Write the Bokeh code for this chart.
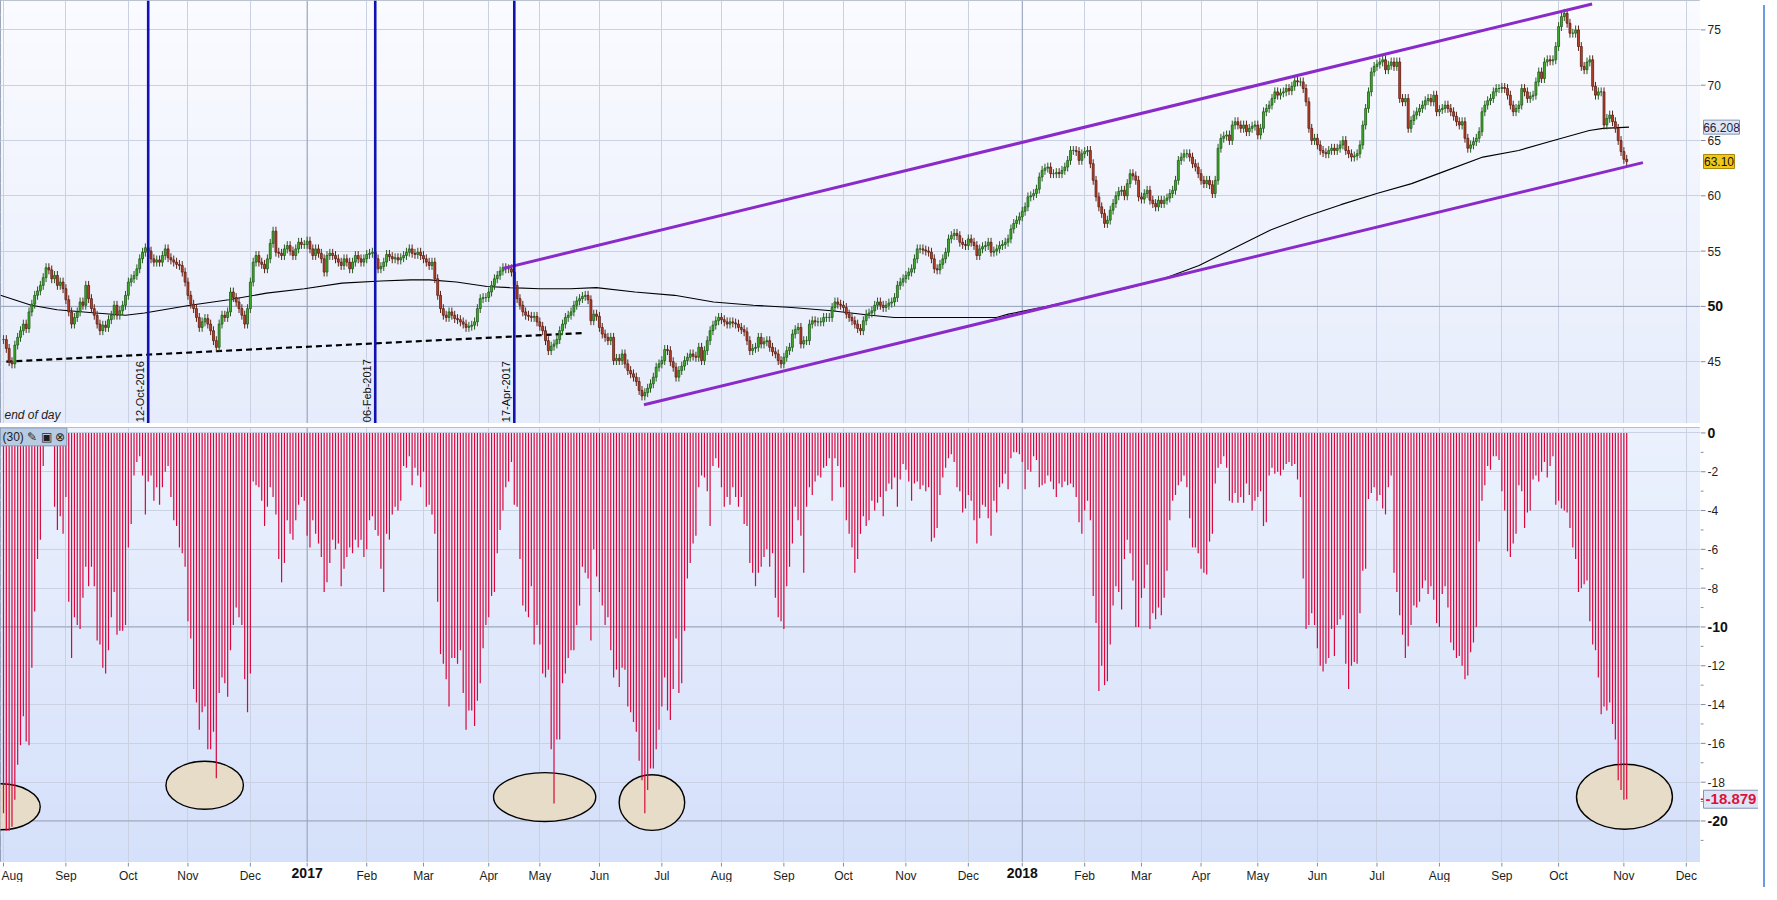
import numpy as np
import pandas as pd
from bokeh.plotting import figure
from bokeh.models import (Range1d, FixedTicker, Span, Label, BoxAnnotation, Grid,
                          ColumnDataSource, Div, Spacer)
from bokeh.layouts import column, row
from bokeh.embed import file_html
from bokeh.resources import INLINE
from bokeh.core.properties import value

FONT = "Liberation Sans"
NARROW = "Liberation Sans Narrow, Liberation Sans"

# ---------------- calendar (UK trading days) ----------------
uk_holidays = ["2016-08-29", "2016-12-26", "2016-12-27", "2017-01-02", "2017-04-14",
               "2017-04-17", "2017-05-01", "2017-05-29", "2017-08-28", "2017-12-25",
               "2017-12-26", "2018-01-01", "2018-03-30", "2018-04-02", "2018-05-07",
               "2018-05-28", "2018-08-27"]

# ---------------- daily closes, 1 Aug 2016 .. 2 Nov 2018 ----------------
close = [
    47.0, 46.2, 45.0, 44.8, 46.5, 47.2, 47.8, 48.4, 48.0, 49.5,
    50.2, 51.0, 51.4, 51.9, 52.6, 53.5, 53.3, 52.5, 52.8, 51.9,
    52.2, 51.6, 50.6, 49.5, 48.4, 49.0, 49.5, 50.4, 50.1, 51.9,
    50.7, 49.8, 49.2, 48.4, 47.8, 48.3, 48.1, 48.8, 49.2, 50.1,
    49.2, 49.6, 50.1, 51.0, 52.2, 52.5, 52.8, 53.4, 54.3, 54.9,
    55.3, 55.0, 54.3, 54.0, 54.2, 54.0, 54.6, 55.2, 54.4, 54.2,
    54.0, 53.8, 53.7, 53.1, 52.2, 51.0, 50.2, 49.8, 49.0, 48.1,
    48.6, 48.9, 48.4, 47.8, 46.9, 46.3, 48.4, 49.2, 49.0, 49.5,
    51.3, 50.8, 50.4, 49.8, 49.2, 48.4, 49.8, 52.2, 54.0, 54.6,
    54.0, 53.8, 53.4, 54.3, 55.7, 56.8, 54.9, 54.8, 54.6, 55.2,
    55.5, 55.0, 54.6, 55.2, 55.8, 55.6, 55.6, 55.9, 55.2, 54.6,
    55.2, 54.8, 54.3, 53.1, 54.6, 54.8, 54.6, 54.3, 54.0, 53.7,
    54.3, 54.0, 53.4, 54.0, 54.6, 54.3, 54.0, 54.3, 54.7, 54.8,
    54.9, 54.3, 53.4, 53.6, 54.0, 54.7, 54.5, 54.3, 54.4, 54.2,
    54.4, 54.6, 54.9, 55.2, 54.8, 54.7, 54.9, 54.6, 54.3, 54.0,
    53.7, 54.0, 52.5, 51.0, 49.8, 49.2, 49.0, 49.5, 49.2, 48.9,
    48.8, 48.6, 48.4, 48.1, 48.2, 48.3, 48.6, 49.8, 50.7, 50.8,
    50.8, 51.3, 51.9, 52.5, 52.8, 53.2, 53.5, 53.4, 53.4, 53.1,
    51.9, 50.7, 50.1, 49.5, 49.2, 49.1, 49.0, 49.1, 48.6, 48.2,
    47.8, 46.9, 46.0, 46.4, 46.6, 47.0, 47.8, 48.4, 49.0, 49.2,
    49.5, 50.1, 50.5, 50.7, 50.9, 51.0, 50.6, 48.7, 49.3, 49.1,
    48.1, 47.5, 47.2, 46.9, 47.2, 45.1, 45.3, 45.1, 45.7, 44.8,
    44.2, 43.9, 43.6, 43.2, 42.4, 41.9, 42.2, 42.6, 43.0, 43.6,
    44.5, 44.8, 45.1, 46.1, 46.0, 45.0, 44.5, 43.6, 44.2, 44.6,
    45.1, 45.4, 45.7, 45.5, 45.4, 46.3, 45.1, 46.0, 46.9, 47.8,
    48.3, 48.7, 49.0, 48.8, 48.6, 48.4, 48.6, 48.5, 48.4, 48.1,
    47.9, 47.7, 46.9, 46.0, 46.2, 46.3, 47.2, 46.6, 46.8, 46.9,
    46.3, 45.9, 45.7, 45.1, 44.8, 45.4, 46.0, 46.3, 47.5, 47.9,
    48.1, 46.6, 46.9, 46.9, 48.4, 48.7, 48.6, 48.6, 48.6, 49.0, 49.0,
    49.0, 49.9, 50.4, 50.2, 50.1, 49.9, 49.3, 49.0, 48.7, 48.4,
    48.0, 47.8, 48.7, 49.3, 49.4, 49.6, 50.1, 50.4, 50.1, 49.9,
    50.1, 50.3, 50.4, 50.8, 51.9, 52.2, 52.5, 52.8, 53.1, 53.4,
    54.3, 55.2, 55.2, 55.1, 55.0, 54.9, 54.3, 53.4, 53.3, 53.8,
    54.3, 54.9, 56.1, 56.4, 56.6, 56.4, 55.8, 55.6, 55.5, 56.1,
    55.8, 55.5, 54.6, 55.2, 55.4, 55.5, 55.8, 54.9, 55.0, 55.2,
    55.5, 55.6, 55.8, 56.1, 57.0, 57.5, 57.8, 58.1, 58.6, 59.0,
    59.9, 60.0, 60.2, 60.6, 61.7, 62.3, 62.5, 62.6, 62.0, 62.0,
    62.1, 62.0, 62.3, 62.6, 63.2, 64.1, 64.1, 64.0, 63.2, 63.8,
    64.0, 64.1, 62.9, 61.4, 59.9, 59.0, 58.4, 57.5, 57.8, 58.7,
    59.3, 60.0, 60.4, 60.5, 60.0, 61.1, 62.0, 61.8, 61.4, 59.9,
    59.7, 60.2, 60.5, 59.6, 59.3, 59.0, 59.6, 59.3, 59.6, 59.8,
    60.2, 60.5, 61.4, 63.2, 63.5, 63.8, 63.8, 63.5, 62.9, 62.6,
    62.0, 61.4, 61.1, 61.4, 61.0, 60.2, 61.4, 64.3, 65.2, 65.4,
    65.5, 65.0, 66.4, 66.7, 66.4, 66.1, 66.4, 65.8, 66.1, 66.3,
    66.4, 65.5, 66.1, 67.6, 67.9, 68.2, 68.8, 69.4, 69.1, 69.3,
    69.4, 69.7, 69.5, 69.9, 70.4, 70.3, 70.3, 69.7, 68.5, 66.1,
    65.0, 65.2, 64.6, 64.1, 63.9, 63.8, 64.1, 64.3, 64.1, 64.3,
    64.6, 65.0, 64.1, 63.8, 63.5, 63.6, 63.8, 64.6, 66.4, 67.9,
    69.4, 71.2, 71.7, 71.9, 72.1, 72.3, 71.4, 71.8, 72.1, 71.7,
    72.1, 68.8, 68.5, 68.8, 66.1, 66.8, 67.3, 67.6, 67.9, 68.2,
    68.6, 68.8, 68.5, 69.1, 67.6, 67.8, 67.9, 68.2, 67.9, 67.6,
    67.2, 66.7, 66.4, 66.7, 65.2, 64.3, 64.6, 64.9, 65.2, 65.8,
    67.6, 68.2, 68.6, 68.8, 69.4, 69.7, 69.7, 69.8, 69.7, 69.1,
    68.2, 67.6, 67.9, 68.2, 69.7, 69.4, 68.8, 69.0, 69.1, 70.3,
    71.2, 70.6, 72.1, 72.3, 72.2, 72.3, 73.5, 75.3, 76.2, 76.5,
    75.6, 74.7, 74.7, 75.0, 73.5, 71.7, 71.4, 72.1, 72.3, 69.9,
    69.1, 69.4, 69.4, 66.4, 67.0, 67.3, 66.7, 66.1, 65.0, 64.0,
    63.3, 63.1,
]

# ---------------- 30-day drawdown indicator (%), same days ----------------
drawdown = [
    -19.6, -20.5, -20.5, -20.3, -18.9, -17.1, -16.1, -14.6, -15.9, -16.1,
    -12.1, -9.2, -6.5, -5.5, -1.7, -0.5, -0.3, -0.1, -3.8, -5.0,
    -4.3, -5.2, -3.3, -8.7, -11.6, -9.5, -9.9, -10.1, -8.5, -6.9,
    -7.9, -6.9, -7.9, -10.7, -10.9, -12.1, -12.4, -11.2, -9.5, -8.2,
    -10.4, -10.2, -10.2, -9.9, -5.9, -4.7, -2.2, -1.5, -1.2, -2.2,
    -4.2, -2.5, -2.2, -3.5, -2.8, -3.7, -2.8, -2.0, -1.7,
    -3.3, -4.5, -4.8, -5.9, -6.2, -6.9, -9.7, -10.6, -13.2, -13.9,
    -15.3, -14.4, -14.1, -16.3, -16.3, -15.4, -17.8, -13.4, -12.6, -12.9,
    -13.6, -11.2, -9.9, -9.0, -9.5, -9.9, -12.7, -14.4, -12.4, -2.5,
    -2.7, -2.8, -3.5, -4.8, -3.8, -2.8, -3.3, -4.2, -6.5, -7.7,
    -6.7, -4.5, -5.2, -5.5, -4.5, -3.7, -3.3, -3.5, -5.3,
    -5.9, -4.5, -5.2, -5.7, -6.4, -8.2, -7.7, -6.7, -5.5, -6.0,
    -5.7, -7.9, -7.0, -6.4, -5.9, -6.2, -5.5, -5.9, -5.5, -6.4,
    -6.0, -4.5, -4.3, -5.0, -5.3, -7.0, -8.2, -5.2, -5.5, -4.2,
    -3.8, -4.0, -3.5, -1.7, -1.8, -1.2, -2.7, -1.8, -2.2, -2.8,
    -2.0, -3.8, -3.7, -4.2, -5.2, -8.7, -11.4, -11.9, -12.7,
    -14.1, -11.6, -11.6, -11.9, -11.2, -13.4, -15.3, -14.3, -14.3, -15.1,
    -13.8, -12.9, -11.1, -9.9, -9.5, -8.4, -8.2, -6.2, -5.0, -4.0,
    -2.8, -2.5, -1.5, -3.7, -3.8, -6.5, -8.9, -9.2, -9.5, -7.9,
    -10.9, -9.9, -10.9, -12.4, -12.6, -12.2, -16.3, -19.1, -15.8, -15.8,
    -12.9, -12.4, -11.6, -11.2, -11.2, -9.9, -8.9, -6.9, -7.2,
    -7.5, -10.7, -6.0, -7.4, -8.2, -8.9, -9.9, -9.5, -11.2, -12.6,
    -12.2, -13.1, -12.1, -12.2, -14.1, -14.4, -14.9, -15.4, -16.9, -17.9,
    -19.6, -18.4, -17.3, -17.3, -16.3, -15.3, -14.1, -12.6, -14.3, -14.8,
    -13.2, -10.6, -13.4, -12.9, -10.2, -7.5, -6.7, -5.7, -5.3, -2.8,
    -2.2, -2.3, -3.0, -4.8, -1.7, -1.3, -1.8, -2.8, -3.8,
    -3.3, -3.7, -2.8, -3.3, -3.8, -3.3, -4.7, -4.8, -6.7, -7.2,
    -7.9, -7.2, -6.9, -6.4, -6.0, -6.9, -6.2, -8.5, -9.5, -9.7,
    -10.1, -7.9, -6.9, -5.7, -3.8, -4.5, -5.3, -7.2, -3.8, -2.8,
    -3.2, -2.5, -2.2, -2.3, -1.8, -1.7, -1.3, -3.5, -1.3, -1.7,
    -2.8, -2.8, -4.5, -5.2, -5.9, -7.2, -6.5, -5.2, -4.3, -4.8, -4.5,
    -3.5, -4.0, -3.6, -3.3, -4.3, -3.0, -2.6, -2.9, -2.3, -3.8,
    -2.4, -1.6, -1.9, -2.5, -3.5, -2.6, -2.5, -2.9, -2.7, -3.0,
    -2.8, -5.6, -5.4, -4.9, -3.2, -2.3, -1.8, -1.3, -1.1, -1.5,
    -2.8, -3.0, -4.1, -3.9, -3.2, -3.5, -4.5, -5.7, -4.4, -3.7,
    -3.8, -4.4, -5.3, -3.5, -4.1, -2.8, -2.6, -2.1, -2.9,
    -1.3, -1.0, -1.0, -1.1, -1.5, -2.9, -1.9, -2.0, -1.2, -1.4,
    -2.8, -2.7, -2.6, -2.2, -2.5, -2.9, -3.3, -2.6, -2.8, -2.5,
    -2.7, -2.6, -2.8, -3.3, -4.6, -5.2, -4.0, -3.5, -4.5, -8.4,
    -9.8, -13.3, -12.0, -13.0, -12.8, -10.9, -8.9, -7.9, -8.2, -9.1,
    -6.5, -5.5, -6.2, -7.6, -10.0, -10.0, -8.5, -8.0, -6.8,
    -10.1, -9.3, -9.6, -9.0, -9.4, -8.5, -7.1, -4.5, -3.5, -3.2,
    -2.7, -2.5, -2.2, -2.8, -4.4, -5.9, -5.9, -6.2, -7.0, -7.2,
    -7.3, -5.6, -5.2, -2.6, -1.8, -1.6, -1.2, -1.8, -3.5, -3.6,
    -3.1, -3.6, -3.3, -3.6, -2.6, -3.2, -4.0, -3.5, -3.3,
    -3.0, -4.8, -4.6, -2.2, -1.8, -2.1, -2.0, -2.2, -1.9, -1.6,
    -1.5, -1.7, -1.6, -2.4, -3.3, -7.5, -10.1, -9.9, -9.3, -9.9,
    -11.1, -12.0, -12.3, -11.9, -11.6, -10.1, -11.5, -9.9, -9.6, -9.4,
    -11.9, -13.2, -12.0, -11.8, -11.9, -9.3, -7.1, -7.0, -3.4, -3.1,
    -2.8, -3.5, -3.2, -3.9, -4.2, -2.8, -2.2, -7.2, -8.2,
    -9.4, -10.4, -11.6, -11.0, -9.9, -8.9, -9.0, -8.7, -8.0, -7.6,
    -8.3, -7.9, -8.6, -9.8, -10.0, -8.3, -7.9, -9.0, -10.8, -11.2,
    -11.6, -11.5, -12.0, -12.7, -12.5, -11.3, -10.8, -10.0, -5.6, -3.5,
    -2.7, -1.7, -1.9, -1.2, -1.2, -1.4, -3.0, -4.0, -6.1,
    -6.4, -5.7, -5.2, -2.7, -3.0, -4.9, -4.1, -4.0, -2.4, -2.2,
    -2.5, -2.0, -1.5, -2.3, -1.7, -1.2, -3.7, -3.5, -3.9, -4.0,
    -4.1, -4.9, -5.9, -6.5, -8.2, -8.0, -7.8, -7.6, -9.7, -10.9,
    -11.2, -12.6, -14.5, -14.1, -14.3, -13.9, -15.0, -15.8, -17.9, -18.4,
    -18.9, -18.879,
]

# ---------------- long moving average ----------------
ma_x = [-1.05, 9.8, 18.9, 32.5, 43.0, 49.7, 65.8, 79.4, 92.7, 106.0, 119.3, 133.0,
        143.5, 150.1, 159.6, 170.4, 178.4, 189.0, 199.8, 208.9, 222.5, 236.5, 250.2,
        264.2, 277.8, 291.8, 305.5, 313.9, 326.5, 340.1, 349.9, 354.1, 367.7, 381.7,
        395.4, 408.7, 421.3, 433.9, 446.5, 458.7, 471.3, 483.9, 496.2, 508.7, 521.3,
        533.9, 546.2, 558.8, 563.7, 572.8]
ma_y = [51.0, 50.1, 49.7, 49.4, 49.2, 49.4, 50.1, 50.6, 51.2, 51.6, 52.1, 52.3,
        52.4, 52.4, 52.2, 51.8, 51.7, 51.6, 51.6, 51.7, 51.3, 51.0, 50.4,
        50.1, 49.9, 49.6, 49.2, 49.0, 49.0, 49.0, 49.0, 49.3, 50.0, 50.8,
        51.6, 52.5, 53.7, 55.3, 56.9, 58.1, 59.2, 60.2, 61.1, 62.3, 63.5,
        64.1, 65.0, 65.9, 66.1, 66.208]

# ---------------- drawn trend lines (bar index, price) ----------------
upper_x = [176.3, 559.8]
upper_y = [53.45, 77.35]
lower_x = [225.7, 577.7]
lower_y = [41.1, 63.0]
support_x = [1.0, 204.7]
support_y = [45.0, 47.6]

event_dates = ["2016-10-12", "2017-02-06", "2017-04-17"]
event_text = ["12-Oct-2016", "06-Feb-2017", "17-Apr-2017"]

# ---------------- highlight ellipses in the lower pane ----------------
circle_x = [-1.05, 70.9, 190.7, 228.5, 571.2]
circle_y = [-19.27, -18.16, -18.77, -19.05, -18.75]
circle_w = [28.0, 27.3, 36.0, 23.1, 33.8]
circle_h = [2.37, 2.47, 2.52, 2.87, 3.36]

price_ticks = [45, 50, 55, 60, 65, 70, 75]
price_bold = [50]
dd_ticks = [0, -2, -4, -6, -8, -10, -12, -14, -16, -18, -20]
dd_bold = [0, -10, -20]
dd_minor = [-v for v in range(1, 22, 2)]
ma_last = 66.208
close_last = 63.10
dd_last = -18.879

# ---------------- derived ----------------
days = pd.bdate_range("2016-08-01", "2018-12-31", freq="C", holidays=uk_holidays)
n = min(len(close), len(drawdown))
xi = np.arange(n)
c = np.array(close[:n], dtype=float)
o = np.r_[c[0], c[:-1]]
up = c >= o
btop = np.maximum(o, c)
bbot = np.minimum(o, c)
WICK = 0.4

X0, X1 = -1.05, 598.0
PY0, PY1 = 39.41, 77.66
DY0, DY1 = -22.14, 0.28
FW = 1700          # plot frame width
AW = 58            # right label strip width
FH1, FH2, FH3 = 423, 435, 20
PPU1 = FH1 / (PY1 - PY0)     # px per price unit
PPU2 = FH2 / (DY1 - DY0)     # px per drawdown unit
PPX = FW / (X1 - X0)         # px per bar

month_pos, month_lab = [], []
prev = None
for i, d in enumerate(days):
    key = (d.year, d.month)
    if key != prev:
        prev = key
        if i <= X1:
            month_pos.append(i)
            month_lab.append(str(d.year) if d.month == 1 else d.strftime("%b"))
years = [p for p, l in zip(month_pos, month_lab) if l.isdigit()]

x_range = Range1d(X0, X1)
y1_range = Range1d(PY0, PY1)
y2_range = Range1d(DY0, DY1)

GRID = "#c9d1e2"
GRID_DARK = "#97a3ba"
AXIS = "#7d8ba3"
TXT = "#1e1e1e"


def hexcol(rgb):
    return "#%02x%02x%02x" % tuple(int(round(v)) for v in rgb)


def bands(p, y0, y1, ctop, cbot, nb=30):
    edges = np.linspace(y1, y0, nb + 1)
    for k in range(nb):
        t = k / (nb - 1)
        col = [a + (b - a) * t for a, b in zip(ctop, cbot)]
        p.add_layout(BoxAnnotation(top=edges[k] + 0.05, bottom=edges[k + 1] - 0.05,
                                   fill_color=hexcol(col), fill_alpha=1.0,
                                   line_color=None, level="image"))


def bare(fig):
    fig.grid.visible = False
    fig.border_fill_color = "white"
    return fig


def strip(y_range, fh, top_border=0):
    s = figure(frame_width=AW, frame_height=fh, x_range=Range1d(0, AW), y_range=y_range,
               x_axis_location=None, y_axis_location=None, toolbar_location=None,
               output_backend="svg", min_border_left=0, min_border_right=0,
               min_border_top=top_border, min_border_bottom=0)
    bare(s)
    s.outline_line_color = None
    s.background_fill_color = "white"
    return s


def tick_labels(s, ticks, bold, minor, major_len=5, minor_len=3):
    s.segment(x0=[0] * len(ticks), y0=ticks, x1=[major_len] * len(ticks), y1=ticks,
              line_color=AXIS, line_width=1)
    if minor:
        s.segment(x0=[0] * len(minor), y0=minor, x1=[minor_len] * len(minor), y1=minor,
                  line_color=AXIS, line_width=1)
    norm = [t for t in ticks if t not in bold]
    s.text(x=[7] * len(norm), y=norm, text=[str(t) for t in norm], text_font=value(NARROW),
           text_font_size="12px", text_color=TXT, text_baseline="middle", text_align="left")
    s.text(x=[7] * len(bold), y=bold, text=[str(t) for t in bold], text_font=value(NARROW),
           text_font_size="14px", text_font_style="bold", text_color="#101010",
           text_baseline="middle", text_align="left")


def value_box(s, yv, txt, ppu, w, h, fill, border, color, size, bold=False):
    s.quad(left=[3], right=[3 + w], top=[yv + h / 2 / ppu], bottom=[yv - h / 2 / ppu],
           fill_color=fill, line_color=border, line_width=1)
    s.text(x=[3 + w / 2], y=[yv], text=[txt], text_font=value(NARROW), text_font_size=size,
           text_font_style=("bold" if bold else "normal"), text_color=color,
           text_align="center", text_baseline="middle")


# ================= upper pane: candles =================
p1 = figure(frame_width=FW, frame_height=FH1, x_range=x_range, y_range=y1_range,
            x_axis_location=None, y_axis_location=None, toolbar_location=None,
            output_backend="svg", min_border_left=0, min_border_right=0,
            min_border_top=0, min_border_bottom=0)
bare(p1)
p1.outline_line_color = AXIS
p1.background_fill_color = "#f0f4fd"
bands(p1, PY0, PY1, (250, 251, 255), (230, 236, 251))
p1.add_layout(Grid(dimension=0, ticker=FixedTicker(ticks=month_pos), grid_line_color=GRID))
p1.add_layout(Grid(dimension=1, ticker=FixedTicker(ticks=price_ticks), grid_line_color=GRID))
for yv in years:
    p1.add_layout(Span(location=yv, dimension="height", line_color=GRID_DARK, line_width=1, level="underlay"))
for yv in price_bold:
    p1.add_layout(Span(location=yv, dimension="width", line_color=GRID_DARK, line_width=1, level="underlay"))

p1.line(support_x, support_y, line_color="black", line_width=2.2, line_dash="6 4")
p1.line(ma_x, ma_y, line_color="black", line_width=1.1)

src_up = ColumnDataSource(dict(x=xi[up], top=btop[up], bottom=bbot[up],
                               hi=btop[up] + WICK, lo=bbot[up] - WICK))
src_dn = ColumnDataSource(dict(x=xi[~up], top=btop[~up], bottom=bbot[~up],
                               hi=btop[~up] + WICK, lo=bbot[~up] - WICK))
p1.segment(x0="x", y0="lo", x1="x", y1="hi", source=src_up, line_color="#2a5a22", line_width=1)
p1.segment(x0="x", y0="lo", x1="x", y1="hi", source=src_dn, line_color="#5a2418", line_width=1)
p1.vbar(x="x", width=0.68, top="top", bottom="bottom", source=src_up,
        fill_color="#3fb02c", line_color="#1f5a18", line_width=0.8)
p1.vbar(x="x", width=0.68, top="top", bottom="bottom", source=src_dn,
        fill_color="#b8432b", line_color="#5e1c10", line_width=0.8)

p1.line(upper_x, upper_y, line_color="#8a2bc9", line_width=3)
p1.line(lower_x, lower_y, line_color="#8a2bc9", line_width=3)

for d, t in zip(event_dates, event_text):
    pos = int(np.searchsorted(days, pd.Timestamp(d)))
    p1.add_layout(Span(location=pos, dimension="height", line_color="#1212b0", line_width=2.6))
    p1.add_layout(Label(x=pos, y=PY0 + 0.12, x_offset=-2, text=t, angle=90, angle_units="deg",
                        text_align="left", text_baseline="bottom", text_font=FONT,
                        text_font_size="11px", text_color="#111111"))

p1.add_layout(Label(x=X0, y=PY0 + 0.15, x_offset=4, text="end of day", text_font=FONT,
                    text_font_style="italic", text_font_size="12px", text_color="#222222",
                    text_baseline="bottom"))

a1 = strip(y1_range, FH1)
tick_labels(a1, price_ticks, price_bold, [])
value_box(a1, ma_last, "%.3f" % ma_last, PPU1, 36, 14, "#dde7f7", "#8394b3", "#1a2440", "12px")
value_box(a1, close_last, "%.2f" % close_last, PPU1, 31, 14, "#f2c818", "#a8880a", "#111111", "12px")

# ================= lower pane: drawdown bars =================
p2 = figure(frame_width=FW, frame_height=FH2, x_range=x_range, y_range=y2_range,
            x_axis_location=None, y_axis_location=None, toolbar_location=None,
            output_backend="svg", min_border_left=0, min_border_right=0,
            min_border_top=4, min_border_bottom=0)
bare(p2)
p2.outline_line_color = AXIS
p2.background_fill_color = "#e0e8fb"
bands(p2, DY0, DY1, (235, 241, 253), (213, 224, 250))
p2.add_layout(Grid(dimension=0, ticker=FixedTicker(ticks=month_pos), grid_line_color=GRID))
p2.add_layout(Grid(dimension=1, ticker=FixedTicker(ticks=dd_ticks), grid_line_color=GRID))
for yv in years:
    p2.add_layout(Span(location=yv, dimension="height", line_color=GRID_DARK, line_width=1, level="underlay"))
for yv in (-10, -20):
    p2.add_layout(Span(location=yv, dimension="width", line_color=GRID_DARK, line_width=1, level="underlay"))

p2.ellipse(x=circle_x, y=circle_y, width=circle_w, height=circle_h,
           fill_color="#e6dcc7", line_color="black", line_width=1.4)
p2.segment(x0=xi, y0=np.zeros(n), x1=xi, y1=np.array(drawdown[:n]),
           line_color="#d8083e", line_width=1.2)
p2.add_layout(Label(x=X0, y=DY1 - 0.02, text="(30) \u270e \u25a3 \u2297", text_font=FONT,
                    text_font_size="12px", text_color=TXT, text_baseline="top",
                    background_fill_color="#b7cbe2", border_line_color="#7f97b4",
                    padding=2))

a2 = strip(y2_range, FH2, top_border=4)
tick_labels(a2, dd_ticks, dd_bold, dd_minor)
a2.segment(x0=[0], y0=[dd_last], x1=[3], y1=[dd_last], line_color="#e0103c", line_width=1.5)
value_box(a2, dd_last, "%.3f" % dd_last, PPU2, 55, 18, "#dce6f6", "#8394b3", "#e0103c", "15px", bold=True)

# ================= month strip =================
p3 = figure(frame_width=FW, frame_height=FH3, x_range=x_range, y_range=Range1d(0, FH3),
            x_axis_location=None, y_axis_location=None, toolbar_location=None,
            output_backend="svg", min_border_left=0, min_border_right=0,
            min_border_top=0, min_border_bottom=0)
bare(p3)
p3.outline_line_color = None
p3.background_fill_color = "white"
p3.segment(x0=month_pos, y0=[FH3] * len(month_pos), x1=month_pos, y1=[FH3 - 4] * len(month_pos),
           line_color=AXIS, line_width=1)
# month names; a label too close to the left edge is left-aligned so it stays whole
edge_px = 12
m_in = [(p, l) for p, l in zip(month_pos, month_lab) if not l.isdigit() and (p - X0) * PPX >= edge_px]
m_edge = [(p, l) for p, l in zip(month_pos, month_lab) if not l.isdigit() and (p - X0) * PPX < edge_px]
ylab = [l for l in month_lab if l.isdigit()]
p3.text(x=[p for p, _ in m_in], y=[FH3 - 6] * len(m_in), text=[l for _, l in m_in],
        text_font=value(NARROW), text_font_size="12px", text_color=TXT,
        text_align="center", text_baseline="top")
if m_edge:
    p3.text(x=[X0 + 1.0 / PPX] * len(m_edge), y=[FH3 - 6] * len(m_edge),
            text=[l for _, l in m_edge], text_font=value(NARROW), text_font_size="12px",
            text_color=TXT, text_align="left", text_baseline="top")
p3.text(x=years, y=[FH3 - 5] * len(years), text=ylab, text_font=value(NARROW),
        text_font_size="14px", text_font_style="bold", text_color="#101010",
        text_align="center", text_baseline="top")

corner = Spacer(width=AW, height=FH3)

edge = Div(width=2, height=FH1 + FH2 + 4 + FH3, styles={"background-color": "#6c9be0"})
layout = row(column(row(p1, a1), row(p2, a2), row(p3, corner)), edge)

open("out.html", "w").write(file_html(layout, INLINE, "chart"))
